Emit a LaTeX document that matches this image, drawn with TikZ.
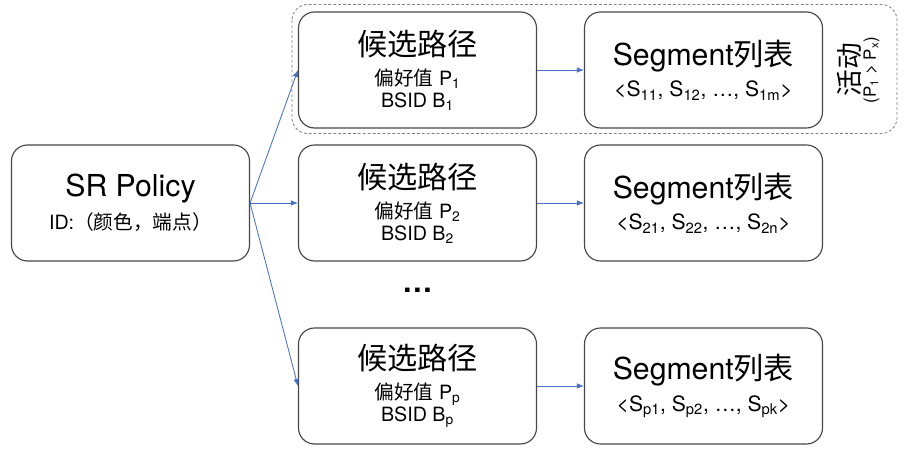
\documentclass[tikz,border=0pt]{standalone}
\usepackage{fontspec}
\setmainfont{TeX Gyre Heros}
\newfontfamily\cjk{Noto Sans CJK SC}
\usepackage{tikz}
\usetikzlibrary{arrows.meta}
\usetikzlibrary{positioning}
\definecolor{linkblue}{RGB}{68,114,196}
\definecolor{boxgray}{RGB}{70,70,70}
\newcommand{\bigsz}{\fontsize{21.5}{24}\selectfont}
\newcommand{\smallsz}{\fontsize{14}{15.6}\selectfont}
\newcommand{\seqsz}{\fontsize{15}{16}\selectfont}
\tikzstyle{block} = [draw=boxgray, line width=0.8pt, 
    rounded corners=0.4cm, fill=white, 
    minimum width=5.95cm, minimum height=2.9cm, 
    align=center, font=\smallsz]
\tikzstyle{arrow} = [linkblue, line width=0.6pt, -{Latex[length=5pt,width=4pt]}]
\tikzstyle{active} = [draw=gray, line width=0.6pt, 
    dash pattern=on 2pt off 1.5pt, rounded corners=0.4cm]

\begin{document}
\begin{tikzpicture}[auto, node distance=7.175cm]
            \useasboundingbox (0,0) rectangle (22.65,11.3);
            \node [block] (policy) at (3.2625,6.225)
            {{\bigsz SR Policy}\\[6pt]ID:{\cjk （颜色，端点）}};
            \node [block, right of=policy] (cand2) 
            {{\bigsz\cjk 候选路径}\\[5.7pt]{\cjk 偏好值} P\textsubscript{2}\\BSID B\textsubscript{2}};
            \node [block, above of=cand2, node distance=3.325cm] (cand1) 
            {{\bigsz\cjk 候选路径}\\[5.7pt]{\cjk 偏好值} P\textsubscript{1}\\BSID B\textsubscript{1}};
            \node [block, below of=cand2, node distance=4.575cm] (candp) 
            {{\bigsz\cjk 候选路径}\\[5.7pt]{\cjk 偏好值} P\textsubscript{p}\\BSID B\textsubscript{p}};
            \node [below of=cand2, node distance=2.175cm, font=\bigsz\bfseries] (dots) 
            {…};
            \node [block, right of=cand1, node distance=7.15cm] (seg1) 
            {{\bigsz Segment{\cjk 列表}}\\[5.7pt]{\seqsz <S\textsubscript{11}, S\textsubscript{12}, …, S\textsubscript{1m}>}};
            \node [block, right of=cand2, node distance=7.15cm] (seg2) 
            {{\bigsz Segment{\cjk 列表}}\\[5.7pt]{\seqsz <S\textsubscript{21}, S\textsubscript{22}, …, S\textsubscript{2n}>}};
            \node [block, right of=candp, node distance=7.15cm] (segp) 
            {{\bigsz Segment{\cjk 列表}}\\[5.7pt]{\seqsz <S\textsubscript{p1}, S\textsubscript{p2}, …, S\textsubscript{pk}>}};
            \node [right of=seg1, node distance=3.65cm, rotate=90, font=\fontsize{19}{21}\selectfont\cjk] (act) 
            {活动};
            \node [right of=seg1, node distance=4.2cm, rotate=90, font=\fontsize{12}{14}\selectfont] (prio) 
            {(P\textsubscript{1} > P\textsubscript{x})};
            \draw [active] ([shift={(-0.15,0.175)}]cand1.north west) rectangle 
            ([shift={(1.85,-0.125)}]seg1.south east);
            \draw [arrow] (policy.east) -- (cand1.west);
            \draw [arrow] (policy.east) -- (cand2.west);
            \draw [arrow] (policy.east) -- (candp.west);
            \draw [arrow] (cand1) -- (seg1);
            \draw [arrow] (cand2) -- (seg2);
            \draw [arrow] (candp) -- (segp);
        \end{tikzpicture}
\end{document}
